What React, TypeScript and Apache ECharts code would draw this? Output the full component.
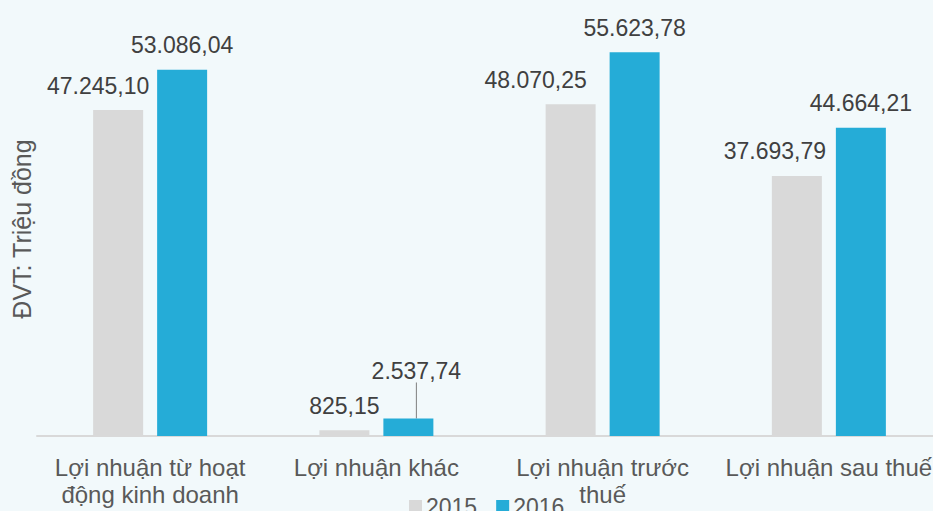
import React, { useEffect, useRef } from "react";
import * as echarts from "echarts";

const categories = [
  "Lợi nhuận từ hoạt\nđộng kinh doanh",
  "Lợi nhuận khác",
  "Lợi nhuận trước\nthuế",
  "Lợi nhuận sau thuế",
];
const values2015 = [47245.1, 825.15, 48070.25, 37693.79];
const values2016 = [53086.04, 2537.74, 55623.78, 44664.21];
const seriesNames = ["2015", "2016"];
const yTitle = "ĐVT: Triệu đồng";

const offsets2015 = [-20, 0, -35, -22];

const fmt = (v: number) => {
  const [i, d] = v.toFixed(2).split(".");
  return i.replace(/\B(?=(\d{3})+(?!\d))/g, ".") + "," + d;
};

export default function App() {
  const ref = useRef<HTMLDivElement>(null);
  useEffect(() => {
    if (!ref.current) return;
    const chart = echarts.init(ref.current, undefined, { renderer: "svg" });
    const font = "Arial, 'Liberation Sans', sans-serif";
    const labelBase = {
      show: true,
      position: "top" as const,
      distance: 13,
      fontSize: 23,
      color: "#404040",
      fontFamily: font,
      formatter: (p: any) => fmt(p.value),
    };
    chart.setOption({
      animation: false,
      backgroundColor: "#f2f9fb",
      textStyle: { fontFamily: font },
      grid: { left: 37, top: 22, bottom: 75, right: 0 },
      legend: {
        left: 404,
        top: 490,
        itemWidth: 13,
        itemHeight: 13,
        itemGap: 19,
        icon: "rect",
        textStyle: { fontSize: 23, color: "#595959", fontFamily: font, padding: [0, 0, 0, -1] },
        data: seriesNames,
      },
      xAxis: {
        type: "category",
        data: categories,
        axisTick: { show: false },
        axisLine: { lineStyle: { color: "#d9d9d9", width: 2 } },
        axisLabel: {
          fontSize: 24,
          color: "#595959",
          fontFamily: font,
          margin: 18,
          lineHeight: 27,
          interval: 0,
        },
      },
      yAxis: {
        type: "value",
        min: 0,
        max: 60000,
        axisLine: { show: false },
        axisTick: { show: false },
        axisLabel: { show: false },
        splitLine: { show: false },
        name: yTitle,
        nameLocation: "middle",
        nameGap: 3,
        nameTextStyle: { fontSize: 25, color: "#595959", fontFamily: font },
      },
      series: [
        {
          name: seriesNames[0],
          type: "bar",
          barWidth: 50,
          barGap: "28%",
          itemStyle: { color: "#d9d9d9" },
          data: values2015.map((v, i) => ({
            value: v,
            label: { ...labelBase, offset: [offsets2015[i], 0] },
          })),
        },
        {
          name: seriesNames[1],
          type: "bar",
          barWidth: 50,
          barGap: "28%",
          itemStyle: { color: "#25acd7" },
          label: labelBase,
          labelLayout: (p: any) => (p.dataIndex === 1 ? { dx: 8, dy: -23 } : {}),
          data: values2016.map((v, i) =>
            i === 1
              ? { value: v, labelLine: { show: true, lineStyle: { color: "#7f7f7f", width: 1 } } }
              : { value: v }
          ),
        },
      ],
    });
    return () => chart.dispose();
  }, []);
  return (
    <div style={{ position: "absolute", left: 0, top: 0, width: 933, height: 511, overflow: "hidden" }}>
      <div ref={ref} style={{ width: 942, height: 511 }} />
    </div>
  );
}
